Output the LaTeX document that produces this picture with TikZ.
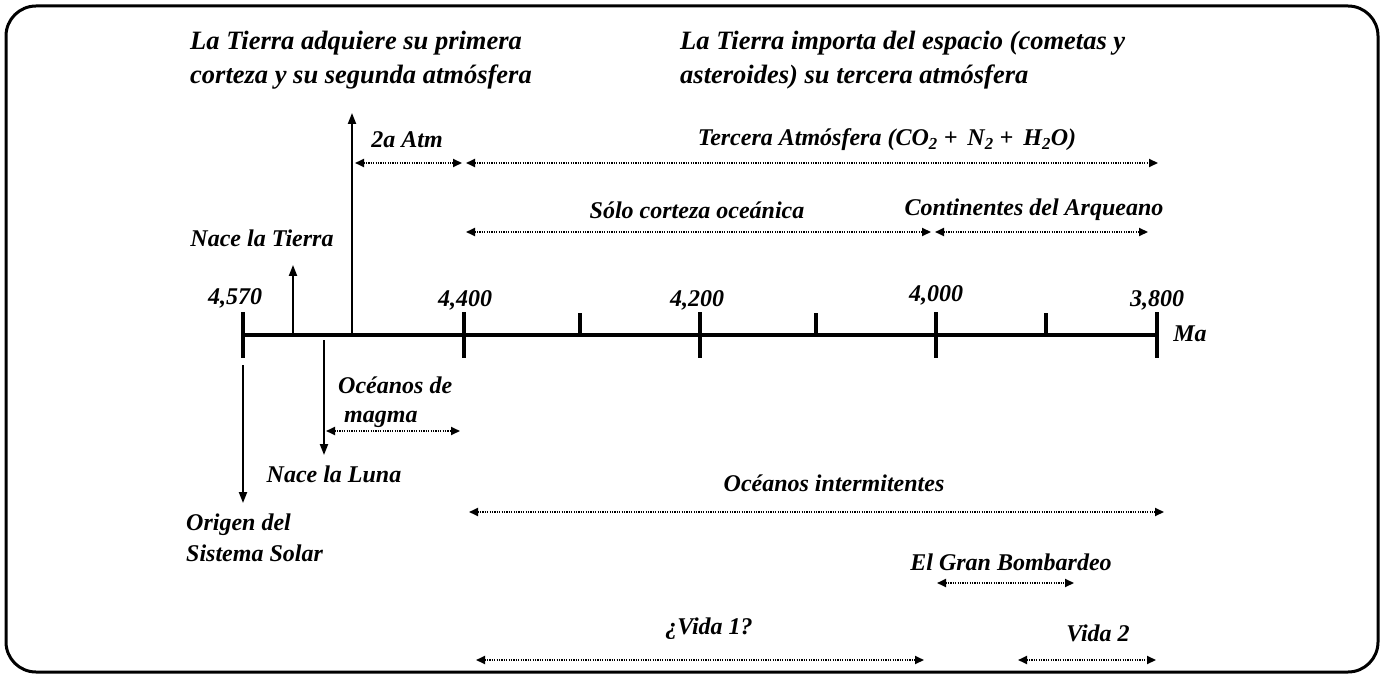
\documentclass[tikz,border=0pt]{standalone}
\usepackage{fontspec}
\setmainfont{Liberation Serif}
\usetikzlibrary{arrows.meta,positioning}

\tikzset{
  lbl/.style={font=\fontsize{24}{28}\selectfont\bfseries\itshape, inner sep=0pt},
  biglbl/.style={font=\fontsize{26.5}{34}\selectfont\bfseries\itshape, inner sep=0pt, align=left},
  span/.style={line width=2pt, dash pattern=on 1.3pt off 1.1pt,
    {Triangle[length=9pt,width=8pt]}-{Triangle[length=9pt,width=8pt]}},
  event/.style={line width=2pt, -{Triangle[length=11pt,width=8pt]}}
}

\begin{document}
\begin{tikzpicture}[x=1pt, y=-1pt]
\useasboundingbox (0,0) rectangle (1386,676);

\draw [line width=3pt, rounded corners=30pt] (6,6) rectangle (1378,672);

% axis points
\coordinate (t4570) at (243,335); \coordinate (t4400) at (464,335);
\coordinate (t4200) at (700,335); \coordinate (t4000) at (936,335);
\coordinate (t3800) at (1157,335);
\coordinate (m1) at (580,335); \coordinate (m2) at (816,335);
\coordinate (m3) at (1046,335);

\begin{scope}[line width=3.6pt]
  \draw (t4570) -- (t3800);
  \foreach \t in {t4570,t4400,t4200,t4000,t3800}
    \draw (\t) ++(0,-23) -- ++(0,46);
  \foreach \t in {m1,m2,m3}
    \draw (\t) ++(0,-22) -- (\t);
\end{scope}

% axis labels
\node [lbl] (n4570) at (235,298) {4,570};
\node [lbl] (n4400) at (465,300) {4,400};
\node [lbl] (n4200) at (697,300) {4,200};
\node [lbl] (n4000) at (936,295) {4,000};
\node [lbl] (n3800) at (1157,300) {3,800};
\node [lbl] (ma) at (1190,334) {Ma};

% events
\coordinate (eTierra) at (293,335); \coordinate (eTierraUp) at (293,265);
\coordinate (eAtm) at (352,335); \coordinate (eAtmUp) at (352,113);
\coordinate (eLuna) at (324,340); \coordinate (eLunaDn) at (324,455);
\coordinate (eSol) at (243,365); \coordinate (eSolDn) at (243,503);

\begin{scope}[event]
  \draw (eTierra) -- (eTierraUp);
  \draw (eAtm) -- (eAtmUp);
  \draw (eLuna) -- (eLunaDn);
  \draw (eSol) -- (eSolDn);
\end{scope}

\node [lbl] (tTierra) at (262,238) {Nace la Tierra};
\node [lbl] (tLuna) at (334,474) {Nace la Luna};
\node [lbl, align=left, anchor=west] (tSol) at (186,538)
  {Origen del\\[3pt]Sistema Solar};
\node [lbl, align=left, anchor=west] (tMagma) at (338,402)
  {Océanos de\\[1pt]\hspace*{6pt}magma};

\node [biglbl, anchor=west] (tCorteza) at (190,60)
  {La Tierra adquiere su primera\\corteza y su segunda atmósfera};
\node [biglbl, anchor=west] (tImporta) at (680,60)
  {La Tierra importa del espacio (cometas y\\asteroides) su tercera atmósfera};

% spans
\coordinate (s2a) at (355,163); \coordinate (s2b) at (462,163);
\coordinate (s3a) at (466,163); \coordinate (s3b) at (1158,163);
\coordinate (sOa) at (466,232); \coordinate (sOb) at (931,232);
\coordinate (sCa) at (935,232); \coordinate (sCb) at (1148,232);
\coordinate (sMa) at (326,431); \coordinate (sMb) at (460,431);
\coordinate (sIa) at (469,512); \coordinate (sIb) at (1164,512);
\coordinate (sBa) at (937,583); \coordinate (sBb) at (1074,583);
\coordinate (sV1a) at (476,660); \coordinate (sV1b) at (924,660);
\coordinate (sV2a) at (1018,660); \coordinate (sV2b) at (1156,660);

\begin{scope}[span]
  \draw (s2a) -- (s2b);
  \draw (s3a) -- (s3b);
  \draw (sOa) -- (sOb);
  \draw (sCa) -- (sCb);
  \draw (sMa) -- (sMb);
  \draw (sIa) -- (sIb);
  \draw (sBa) -- (sBb);
  \draw (sV1a) -- (sV1b);
  \draw (sV2a) -- (sV2b);
\end{scope}

\node [lbl] (l2a) at (407,140) {2a Atm};
\node [lbl] (l3a) at (887,140)
  {Tercera Atmósfera (CO\textsubscript{2} + \,N\textsubscript{2} + \,H\textsubscript{2}O)};
\node [lbl] (lO) at (697,210) {Sólo corteza oceánica};
\node [lbl] (lC) at (1034,210) {Continentes del Arqueano};
\node [lbl] (lI) at (834,483) {Océanos intermitentes};
\node [lbl] (lB) at (1011,562) {El Gran Bombardeo};
\node [lbl] (lV1) at (709,629) {¿Vida 1?};
\node [lbl] (lV2) at (1098,633) {Vida 2};

\end{tikzpicture}
\end{document}
